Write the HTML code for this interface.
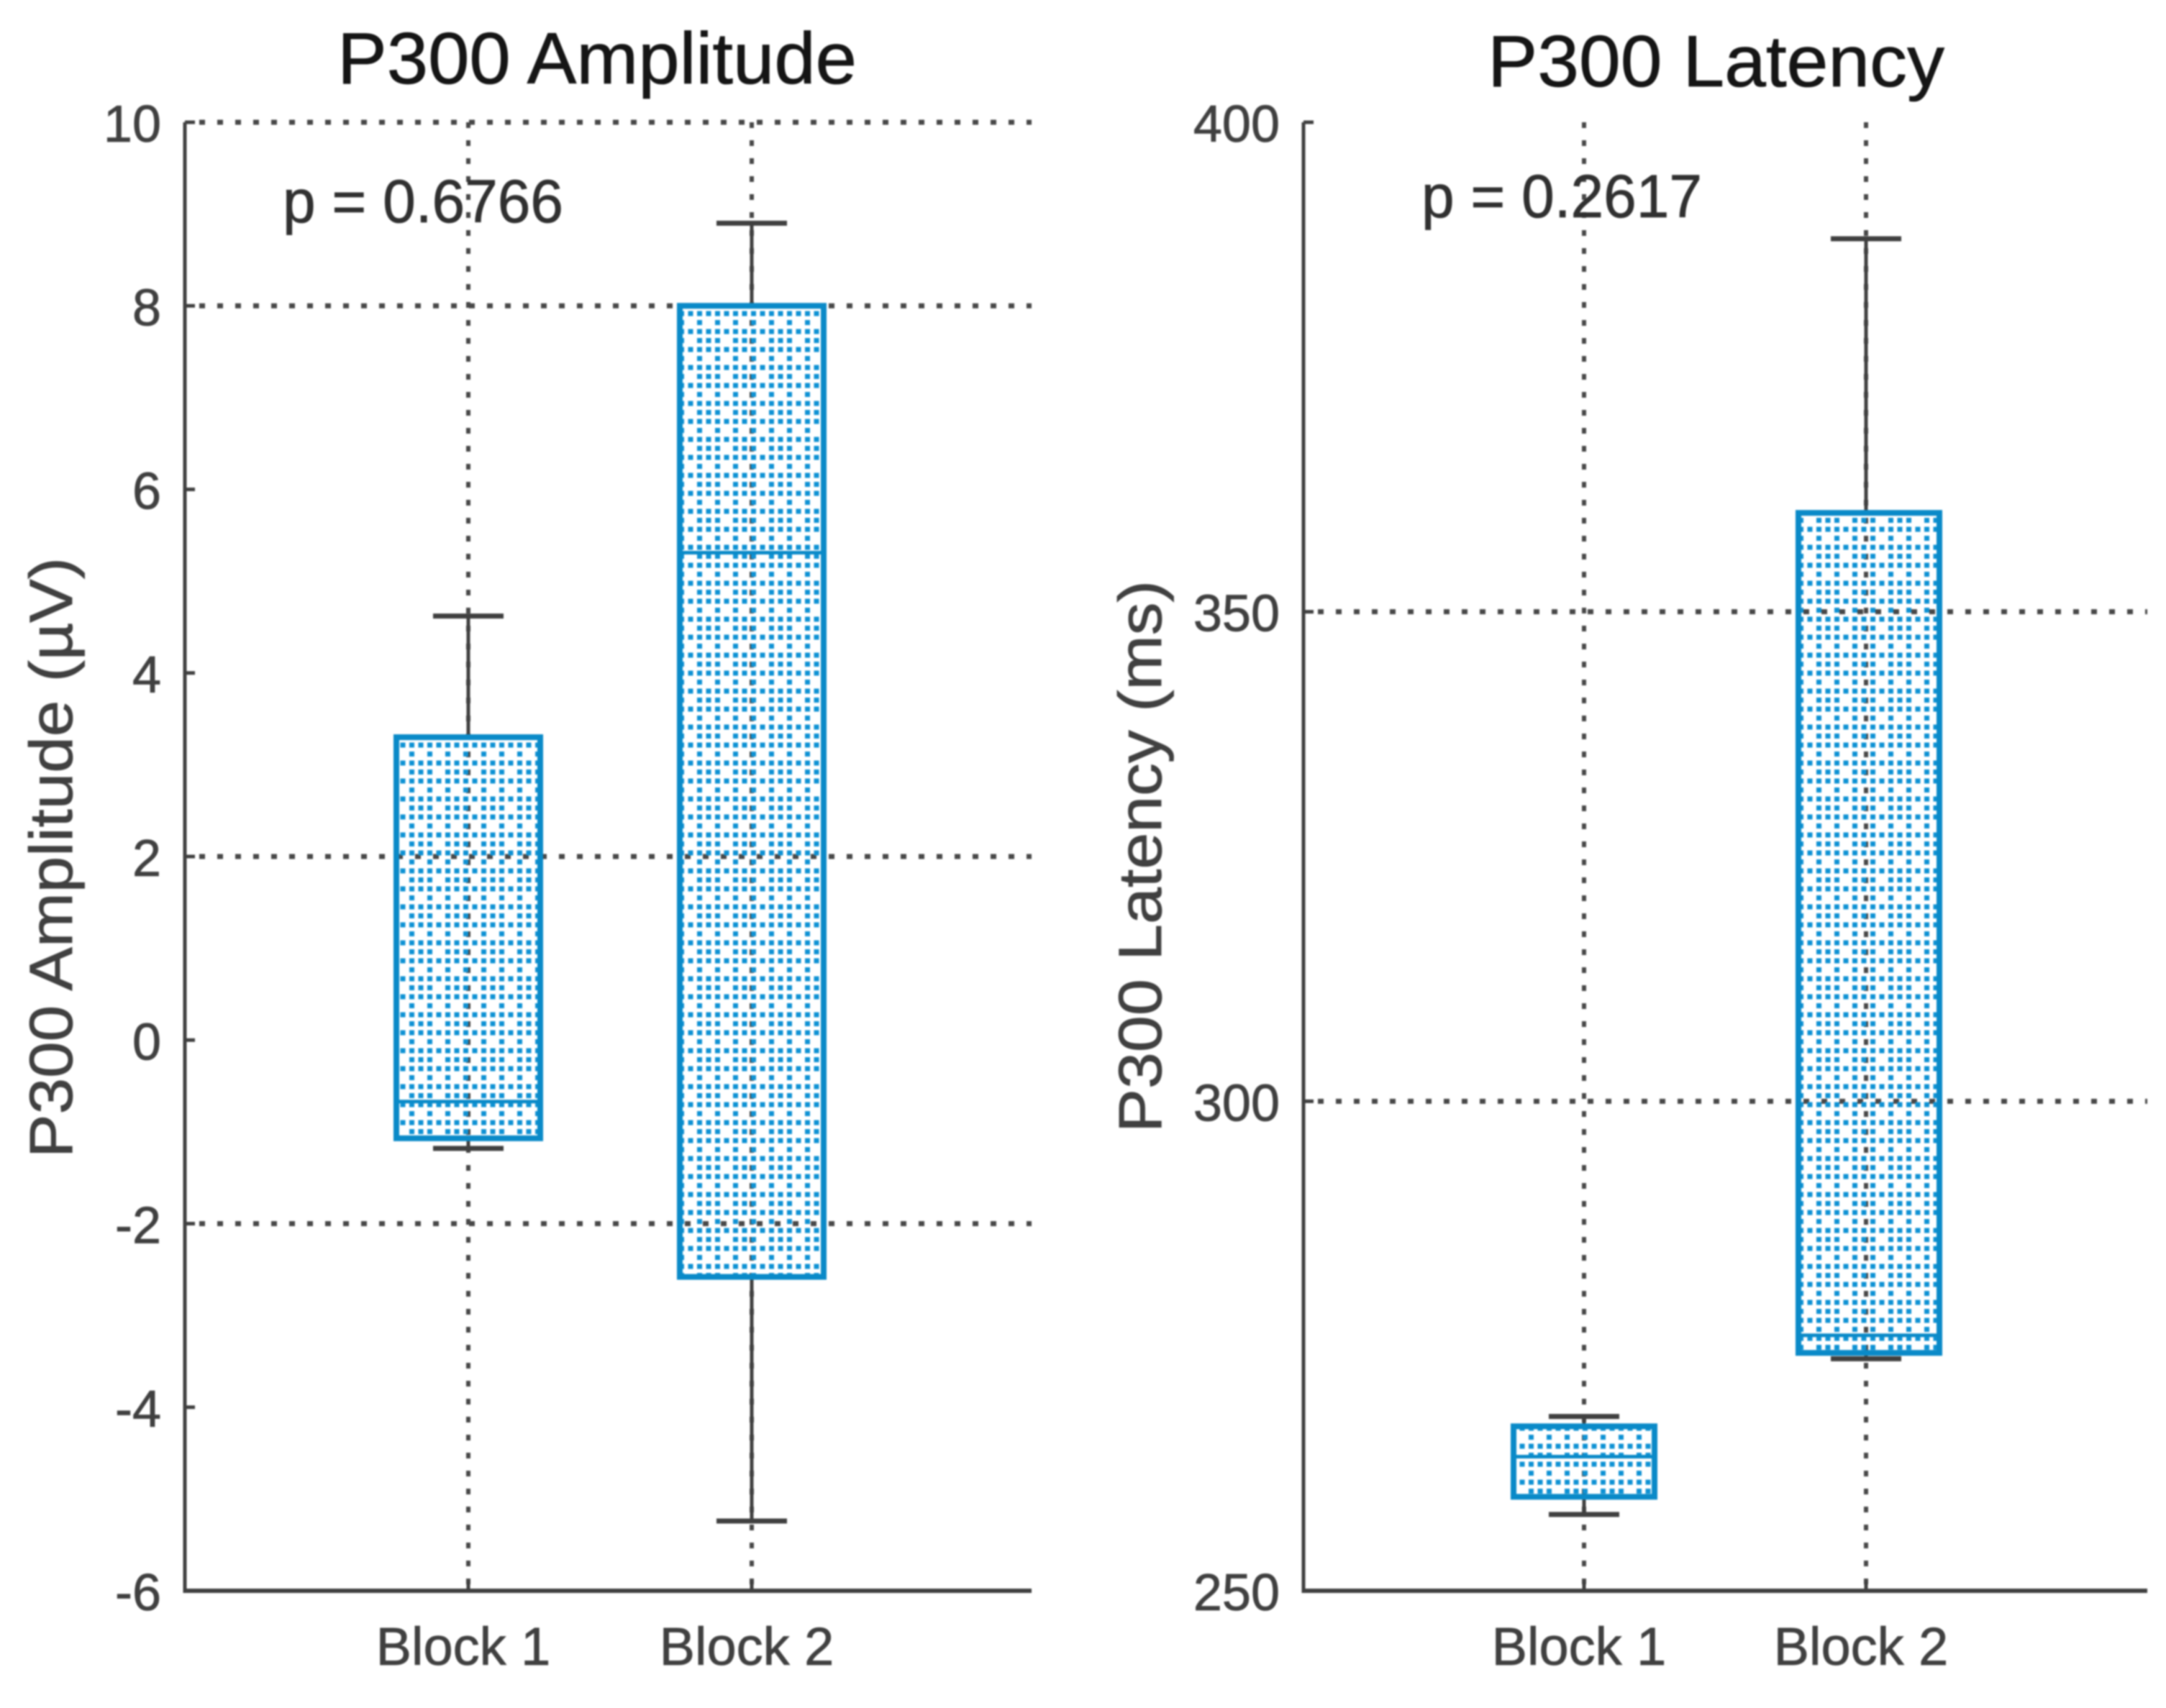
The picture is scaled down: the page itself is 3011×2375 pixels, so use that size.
<!DOCTYPE html>
<html lang="en">
<head>
<meta charset="utf-8">
<title>P300 Amplitude and Latency</title>
<style>
  html, body { margin: 0; padding: 0; background: #fff; }
  #figure { display: block; width: 3011px; height: 2375px; filter: blur(1.1px); }
  text { font-family: "Liberation Sans", sans-serif; stroke: currentColor; stroke-width: 0.8px; }
</style>
</head>
<body>
<svg id="figure" xmlns="http://www.w3.org/2000/svg" width="3011" height="2375" viewBox="0 0 3011 2375">
  <defs>
    <pattern id="hatch-left" patternUnits="userSpaceOnUse" width="50" height="50" patternTransform="translate(569 1045)"></pattern>
    <pattern id="hatch-right" patternUnits="userSpaceOnUse" width="50" height="50" patternTransform="translate(2125 1045)"></pattern>
  </defs>
</svg>
<script>
// ---- Chart data ----
const categories = ['Block 1', 'Block 2'];

const amplitudeTicks = [10, 8, 6, 4, 2, 0, -2, -4, -6];
const amplitudeGrid = [10, 8, 2, -2];
const amplitudeWhiskerHigh = [4.62, 8.9];
const amplitudeQ3 = [3.3, 8.0];
const amplitudeMedian = [-0.67, 5.31];
const amplitudeQ1 = [-1.07, -2.58];
const amplitudeWhiskerLow = [-1.18, -5.24];

const latencyTicks = [400, 350, 300, 250];
const latencyGrid = [350, 300];
const latencyWhiskerHigh = [267.8, 388.1];
const latencyQ3 = [266.8, 360.1];
const latencyMedian = [263.7, 276.1];
const latencyQ1 = [259.6, 274.3];
const latencyWhiskerLow = [257.8, 273.7];

// ---- Drawing ----
const NS = 'http://www.w3.org/2000/svg';
const svg = document.getElementById('figure');
const AXIS = '#404040', BLUE = '#0a8ac8';

function make(tag, attrs, parent) {
  const el = document.createElementNS(NS, tag);
  for (const k in attrs) el.setAttribute(k, attrs[k]);
  parent.appendChild(el);
  return el;
}

// Hatch: four-row repeat of sparse / dense / medium / dense dots
function fillHatch(id) {
  const p = document.getElementById(id);
  const step = 12.5;
  for (let r = 0; r < 4; r++) {
    for (let c = 0; c < 4; c++) {
      const on = r === 0 ? c % 2 === 0 : r === 2 ? c !== 3 : true;
      if (!on) continue;
      make('rect', { x: c * step, y: r * step, width: 7, height: 7, fill: '#0f92d4' }, p);
    }
  }
}
fillHatch('hatch-left');
fillHatch('hatch-right');

function drawPanel(o) {
  const g = make('g', {}, svg);
  
  

  const y = v => o.y0 + (o.vMax - v) / (o.vMax - o.vMin) * (o.y1 - o.y0);
  const x = i => o.xPos0 + i * o.xStep;

  // Gridlines
  o.grid.forEach(v => {
    const l = make('line', { x1: o.x0 + 20, x2: o.x1, y1: y(v), y2: y(v), stroke: '#484848', 'stroke-width': 7, 'stroke-dasharray': '8 17' }, g);
    
    
  });
  categories.forEach((c, i) => {
    const l = make('line', { x1: x(i), x2: x(i), y1: o.y0, y2: o.y1, stroke: '#484848', 'stroke-width': 6, 'stroke-dasharray': '8 17' }, g);
    
    
  });

  // Axis lines
  const ySpine = make('line', { x1: o.x0, x2: o.x0, y1: o.y0, y2: o.y1 + 3, stroke: AXIS, 'stroke-width': 5 }, g);
  
  
  const xSpine = make('line', { x1: o.x0, x2: o.x1, y1: o.y1, y2: o.y1, stroke: AXIS, 'stroke-width': 6 }, g);
  
  

  // Y ticks and labels
  o.ticks.forEach(v => {
    const t = make('line', { x1: o.x0, x2: o.x0 + 14, y1: y(v), y2: y(v), stroke: AXIS, 'stroke-width': 5 }, g);
    
    
    const lab = make('text', { x: o.x0 - 33, y: y(v) + 27, 'text-anchor': 'end', 'font-size': 72, fill: AXIS, color: AXIS }, g);
    lab.textContent = String(v);
    
    
  });

  // Categories
  categories.forEach((c, i) => {
    const t = make('line', { x1: x(i), x2: x(i), y1: o.y1 - 14, y2: o.y1, stroke: AXIS, 'stroke-width': 5 }, g);
    
    
    const lab = make('text', { x: x(i) - 7, y: o.y1 + 103, 'text-anchor': 'middle', 'font-size': 74, fill: AXIS, color: AXIS }, g);
    lab.textContent = c;
    
    
  });

  // Boxes
  categories.forEach((c, i) => {
    const b = make('g', {}, g);
    
    
    const cx = x(i), w = o.boxW, bx = cx + o.boxNudge * i;

    const up = make('line', { x1: cx, x2: cx, y1: y(o.hi[i]), y2: y(o.q3[i]), stroke: AXIS, 'stroke-width': 5 }, b);
    
    
    const dn = make('line', { x1: cx, x2: cx, y1: y(o.q1[i]), y2: y(o.lo[i]), stroke: AXIS, 'stroke-width': 5 }, b);
    
    
    const capU = make('line', { x1: cx - 49, x2: cx + 49, y1: y(o.hi[i]), y2: y(o.hi[i]), stroke: AXIS, 'stroke-width': 7 }, b);
    
    
    const capL = make('line', { x1: cx - 49, x2: cx + 49, y1: y(o.lo[i]), y2: y(o.lo[i]), stroke: AXIS, 'stroke-width': 7 }, b);
    
    

    const r = make('rect', { x: bx - w / 2, y: y(o.q3[i]), width: w, height: y(o.q1[i]) - y(o.q3[i]), fill: 'url(#' + o.hatch + ')', stroke: BLUE, 'stroke-width': 8 }, b);
    
    
    const m = make('line', { x1: bx - w / 2, x2: bx + w / 2, y1: y(o.med[i]), y2: y(o.med[i]), stroke: BLUE, 'stroke-width': 5 }, b);
    
    
  });

  // Title
  const title = make('text', { x: o.titleX, y: o.titleY, 'font-size': 101, fill: '#151515', color: '#151515', textLength: o.titleW, lengthAdjust: 'spacingAndGlyphs' }, g);
  title.textContent = o.title;
  
  

  // Y axis label
  const yl = make('text', { transform: 'translate(' + o.ylX + ' ' + o.ylY + ') rotate(-90)', 'font-size': 84, fill: AXIS, color: AXIS, textLength: o.ylW, lengthAdjust: 'spacingAndGlyphs' }, g);
  yl.textContent = o.ylabel;
  
  

  // p value
  const pv = make('text', { x: o.pX, y: o.pY, 'font-size': 84, fill: '#303030', color: '#303030', textLength: 390, lengthAdjust: 'spacingAndGlyphs' }, g);
  pv.textContent = o.p;
  
  
}

drawPanel({
  name: 'amplitude', title: 'P300 Amplitude', ylabel: 'P300 Amplitude (\u00B5V)', p: 'p = 0.6766',
  x0: 257, x1: 1434, y0: 170, y1: 2212, vMax: 10, vMin: -6,
  xPos0: 651, xStep: 394, boxW: 200, boxNudge: 0, hatch: 'hatch-left',
  ticks: amplitudeTicks, grid: amplitudeGrid,
  hi: amplitudeWhiskerHigh, q3: amplitudeQ3, med: amplitudeMedian, q1: amplitudeQ1, lo: amplitudeWhiskerLow,
  titleX: 469, titleY: 116, titleW: 722, ylX: 100, ylY: 1610, ylW: 835, pX: 393, pY: 309
});

drawPanel({
  name: 'latency', title: 'P300 Latency', ylabel: 'P300 Latency (ms)', p: 'p = 0.2617',
  x0: 1812, x1: 2985, y0: 170, y1: 2212, vMax: 400, vMin: 250,
  xPos0: 2202, xStep: 392, boxW: 196, boxNudge: 4, hatch: 'hatch-right',
  ticks: latencyTicks, grid: latencyGrid,
  hi: latencyWhiskerHigh, q3: latencyQ3, med: latencyMedian, q1: latencyQ1, lo: latencyWhiskerLow,
  titleX: 2068, titleY: 120, titleW: 635, ylX: 1614, ylY: 1575, ylW: 768, pX: 1976, pY: 302
});
</script>
</body>
</html>
